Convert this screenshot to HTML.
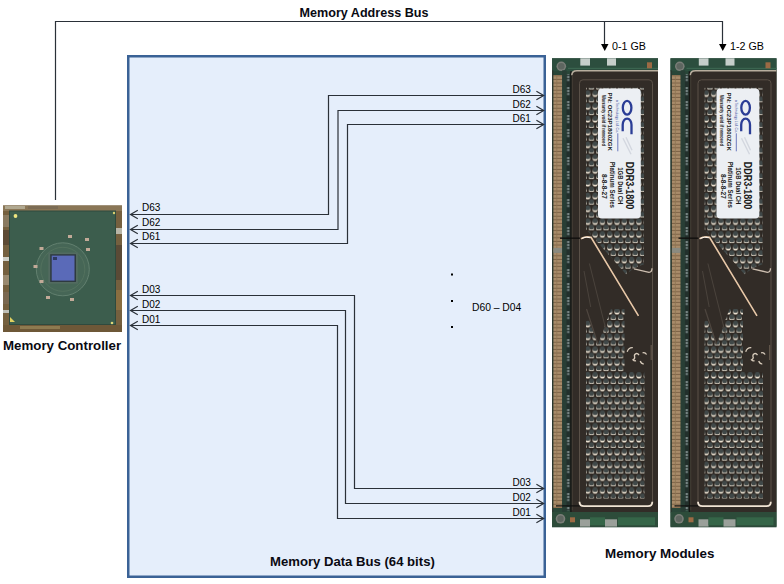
<!DOCTYPE html>
<html><head><meta charset="utf-8">
<style>
html,body{margin:0;padding:0;background:#fff;width:784px;height:584px;overflow:hidden;position:relative;font-family:"Liberation Sans",sans-serif;}
.abs{position:absolute;}
.t{position:absolute;white-space:nowrap;color:#000;line-height:1;}
.b{font-weight:bold;font-size:12.6px;color:#0a0a12;transform-origin:0 0;}
.s{font-size:10px;transform-origin:0 0;}
</style></head>
<body>
<svg class="abs" style="left:0;top:0" width="784" height="584" viewBox="0 0 784 584">
  <defs>
    <pattern id="pf" x="2.95" y="5.6" width="7.3" height="12.8" patternUnits="userSpaceOnUse">
      <rect width="7.3" height="12.8" fill="#2e2823"/>
      <circle cx="3.65" cy="4.8" r="2.5" fill="#e8dece"/><circle cx="3.65" cy="3.2" r="2.5" fill="#404848"/>
      <circle cx="0" cy="11.2" r="2.5" fill="#e8dece"/><circle cx="0" cy="9.6" r="2.5" fill="#404848"/>
      <circle cx="7.3" cy="11.2" r="2.5" fill="#e8dece"/><circle cx="7.3" cy="9.6" r="2.5" fill="#404848"/>
    </pattern>
    <pattern id="gd" x="1.4" y="0" width="8.8" height="3.6" patternUnits="userSpaceOnUse">
      <rect width="8.8" height="3.6" fill="#a98c6a"/>
      <rect y="2.6" width="8.8" height="1" fill="#7c6246"/>
      <rect x="3" width="0.8" height="3.6" fill="#8c7452"/>
    </pattern>
    <pattern id="ch" x="14.4" y="0" width="3.8" height="14" patternUnits="userSpaceOnUse">
      <rect width="3.8" height="14" fill="#22302c"/>
      <rect x="0.7" y="1" width="2.4" height="1.6" fill="#98a6a6"/>
      <rect x="0.7" y="4" width="2.4" height="1.6" fill="#98a6a6"/>
      <rect x="0.7" y="7" width="2.4" height="1.6" fill="#7f8e8e"/>
    </pattern>
    <g id="mod">
      <rect x="0" y="0" width="106" height="469" fill="#294638"/>
      <!-- top pcb -->
      <rect x="0" y="0" width="106" height="13" fill="#2c4e3e"/>
      <rect x="16" y="9.5" width="90" height="1.2" fill="#3b6550"/>
      <circle cx="9.3" cy="8" r="4.8" fill="#7a7e78"/>
      <circle cx="9.3" cy="8" r="3.3" fill="#5e6660"/>
      <rect x="28.3" y="0" width="9.7" height="7.3" fill="#c6ceca"/>
      <rect x="55" y="0" width="9" height="7.3" fill="#c6ceca"/>
      <rect x="95" y="4" width="5" height="6" fill="#9c6a44"/>
      <!-- left strips -->
      <rect x="0" y="12" width="1.4" height="442" fill="#2a362e"/>
      <rect x="1.4" y="16.7" width="8.8" height="433" fill="url(#gd)"/>
      <rect x="1.4" y="189.6" width="8.8" height="5" fill="#8a8a80"/>
      <rect x="10.2" y="12" width="4.4" height="442" fill="#283e35"/>
      <rect x="14.4" y="16" width="3.8" height="436" fill="url(#ch)"/>
      <rect x="18.2" y="13" width="1.6" height="441" fill="#171513"/>
      <!-- heat spreader -->
      <path d="M19.8 17 Q19.8 11.8 25 11.8 L106 11.8 L106 453.7 L19.8 453.7 Z" fill="#322c27"/>
      <path d="M19.8 17 Q19.8 12.4 25 12.4 L106 12.4" fill="none" stroke="#b8ae9e" stroke-width="1.5"/>
      <path d="M27.5 446 L27.5 25 Q27.5 21.5 31 21.5 L97 21.5 Q100.5 21.5 100.5 25 L100.5 446" fill="none" stroke="#5a5148" stroke-width="1"/><line x1="20.3" y1="17" x2="20.3" y2="452" stroke="#4a423a" stroke-width="0.8"/>
      <!-- upper perforated panel -->
      <polygon points="34,29.5 92,29.5 92,206 82,210 74,216 34,171" fill="url(#pf)"/>
      <!-- lower perforated panel -->
      <polygon points="34,262 37,262 46,285.7 59,250.7 72.5,250.7 72.5,313.7 92.5,313.7 92.5,440.2 34,440.2" fill="url(#pf)"/>
      <path d="M34.5 250.7 L46 286" fill="none" stroke="#4e463f" stroke-width="1.2"/>
      <path d="M75.2 293.5 Q76.5 289 80.8 289.3 M87 296.8 Q85.8 294.8 84 295.3 Q81.8 296.2 82.6 298.6 Q83.2 300.4 81 301.6 Q82.2 303 84 302.4 M90.6 294.5 Q93 293.6 94.6 296.2 M88.2 302.8 Q89.5 306 91.8 305.6" fill="none" stroke="#d8ccbc" stroke-width="1.3"/>
      <line x1="99.2" y1="286.7" x2="99.2" y2="301.7" stroke="#6a5e52" stroke-width="1"/>
      <!-- swoosh -->
      <path d="M37.4 205.2 L56.6 282.2 M32 212.7 L38.7 248.7" fill="none" stroke="#4a433c" stroke-width="1"/>
      <path d="M29 180.5 Q34 177.5 39 179 L86.5 257.5" fill="none" stroke="#e8c8a8" stroke-width="1.6"/><path d="M30 180 Q34 178 38.5 179.5" fill="none" stroke="#fff8f0" stroke-width="1"/>
      <path d="M82 210.5 L97 214 Q100 214 100 210" fill="none" stroke="#cdbfb0" stroke-width="1.3"/>
      <rect x="8" y="179.2" width="20" height="1.3" fill="#0e0d0c"/>
      <!-- bottom highlight -->
      <rect x="4" y="447" width="24" height="1.2" fill="#101010"/>
      <path d="M27.5 443.5 Q27.5 447.9 32 447.9 L96 447.9 Q100.3 447.9 100.3 443.5" fill="none" stroke="#f0e4d4" stroke-width="1.8"/>
      <!-- bottom pcb -->
      <rect x="0" y="453.7" width="106" height="14.6" fill="#2d4c3a"/>
      <circle cx="8.5" cy="460.5" r="4.8" fill="#7a7e78"/>
      <circle cx="8.5" cy="460.5" r="3.2" fill="#5e6660"/>
      <rect x="18" y="459" width="5" height="5" fill="#9c6a44"/>
      <rect x="28" y="461" width="10" height="7.3" fill="#9aa09a"/>
      <rect x="38" y="459" width="15" height="8" fill="#356548"/>
      <rect x="53" y="461" width="12" height="7.3" fill="#9aa09a"/>
      <rect x="66" y="459" width="37" height="8" fill="#356548"/>
      <!-- label -->
      <rect x="46" y="30.3" width="42.8" height="130" rx="4" fill="#eceff3"/>
      <g font-family="Liberation Sans, sans-serif" fill="#1a1a1a">
        <text transform="translate(73.6,103.4) rotate(90)" font-size="10.2" font-weight="bold" textLength="47.6" lengthAdjust="spacingAndGlyphs">DDR3-1800</text>
        <text transform="translate(65.8,109) rotate(90)" font-size="7.4" font-weight="bold" textLength="37" lengthAdjust="spacingAndGlyphs">1GB Dual CH</text>
        <text transform="translate(57.8,103.4) rotate(90)" font-size="7.3" font-weight="bold" textLength="46.3" lengthAdjust="spacingAndGlyphs">Platinum Series</text>
        <text transform="translate(50.4,115.7) rotate(90)" font-size="6.6" font-weight="bold" textLength="24.8" lengthAdjust="spacingAndGlyphs">8-8-8-27</text>
        <text transform="translate(56.2,34.3) rotate(90)" font-size="6.2" font-weight="bold" textLength="58.2" lengthAdjust="spacingAndGlyphs">PN: OC23P1800ZGK</text>
        <text transform="translate(49.9,36.7) rotate(90)" font-size="5.6" font-weight="bold" textLength="51" lengthAdjust="spacingAndGlyphs">Warranty void if removed</text>
        <text transform="translate(64.4,41.5) rotate(90)" font-size="3.6" fill="#3a4ca0" textLength="33" lengthAdjust="spacingAndGlyphs">a Technology Ltd. Co.</text>
      </g>
      <line x1="65.8" y1="75" x2="65.8" y2="93" stroke="#4a5cb0" stroke-width="0.8"/>
      <ellipse cx="75.1" cy="49.5" rx="4.3" ry="6.9" fill="none" stroke="#2b3d96" stroke-width="2.3"/>
      <path d="M70.7 73 L70.7 66.5 A4.4 6.2 0 0 1 79.5 66.5 L79.5 76" fill="none" stroke="#2b3d96" stroke-width="2.3"/>
      <path d="M71 80 L79 96 M74 79 L80 92" fill="none" stroke="#d3d7df" stroke-width="1.4"/>
    </g>
  </defs>

  <rect x="128.25" y="56.25" width="416.5" height="520.5" fill="#e5eefb" stroke="#3a6296" stroke-width="2.5"/>
  <g fill="none" stroke="#2a3038" stroke-width="1.2">
    <polyline points="55.5,200 55.5,21.5 722.5,21.5 722.5,45"/>
    <line x1="604.5" y1="21.5" x2="604.5" y2="45"/>
  </g>
  <g fill="#000">
    <polygon points="601,44 608.5,44 604.75,51"/>
    <polygon points="719,44 726.5,44 722.75,51"/>
  </g>
  <g fill="none" stroke="#2a3038" stroke-width="1.2">
    <polyline points="544,95.5 328.5,95.5 328.5,214.5 131,214.5"/>
    <polyline points="544,110.5 338,110.5 338,229.5 131,229.5"/>
    <polyline points="544,124.5 347.5,124.5 347.5,243.5 131,243.5"/>
    <polyline points="131,295.5 354.5,295.5 354.5,488.5 544,488.5"/>
    <polyline points="131,310.5 345.5,310.5 345.5,503.5 544,503.5"/>
    <polyline points="131,325.5 337.5,325.5 337.5,518.5 544,518.5"/>
    <polyline points="137.8,210.3 130.5,214.5 137.8,218.7"/>
    <polyline points="137.8,225.3 130.5,229.5 137.8,233.7"/>
    <polyline points="137.8,239.3 130.5,243.5 137.8,247.7"/>
    <polyline points="137.8,291.3 130.5,295.5 137.8,299.7"/>
    <polyline points="137.8,306.3 130.5,310.5 137.8,314.7"/>
    <polyline points="137.8,321.3 130.5,325.5 137.8,329.7"/>
    <polyline points="536.4,91.3 543.7,95.5 536.4,99.7"/>
    <polyline points="536.4,106.3 543.7,110.5 536.4,114.7"/>
    <polyline points="536.4,120.3 543.7,124.5 536.4,128.7"/>
    <polyline points="536.4,484.3 543.7,488.5 536.4,492.7"/>
    <polyline points="536.4,499.3 543.7,503.5 536.4,507.7"/>
    <polyline points="536.4,514.3 543.7,518.5 536.4,522.7"/>
  </g>
  <g fill="#000">
    <rect x="451" y="273.5" width="2" height="2"/>
    <rect x="451" y="300" width="2" height="2"/>
    <rect x="451" y="326" width="2" height="2"/>
  </g>

  <!-- chip -->
  <g>
    <rect x="3" y="205.5" width="119" height="126.5" fill="#75603f"/>
    <rect x="3" y="205.5" width="119" height="5.5" fill="#8a7656"/>
    <rect x="5" y="206" width="20" height="3" fill="#b0a890"/>
    <rect x="28" y="206" width="30" height="3" fill="#7c6c54"/>
    <rect x="3" y="215" width="6" height="12" fill="#8a7a60"/>
    <rect x="3" y="230" width="6" height="15" fill="#5d4a34"/>
    <rect x="3" y="257" width="6" height="4" fill="#d0d0c8"/>
    <rect x="3" y="275" width="6" height="10" fill="#9a8a70"/>
    <rect x="3" y="292" width="6" height="12" fill="#7a6850"/>
    <rect x="3" y="310" width="6" height="3" fill="#c0c0b8"/>
    <rect x="115.5" y="228" width="6.5" height="6" fill="#b8b6a8"/>
    <rect x="115.5" y="245" width="6.5" height="35" fill="#5a4a36"/>
    <rect x="115.5" y="290" width="6.5" height="20" fill="#8a6e40"/>
    <rect x="3" y="325" width="119" height="7" fill="#6e5838"/>
    <rect x="20" y="326" width="40" height="3" fill="#8e7a50"/>
    <rect x="9.5" y="211" width="106" height="113.5" fill="#3c5d4d"/>
    <rect x="9.5" y="211" width="106" height="113.5" fill="none" stroke="#2f4a3e" stroke-width="1"/>
    <circle cx="62.8" cy="269.3" r="26.5" fill="#466656" stroke="#62806f" stroke-width="1"/>
    <circle cx="62.8" cy="269.3" r="22" fill="none" stroke="#55735f" stroke-width="0.8"/>
    <rect x="48.3" y="252.5" width="29.6" height="31.2" fill="#526b60"/>
    <rect x="50.2" y="254.2" width="25.8" height="27.8" fill="#2e3a40"/>
    <rect x="51.7" y="255.6" width="22.8" height="25" fill="#5a6ab8"/>
    <rect x="53" y="257" width="4" height="3" fill="#2e3a60"/>
    <g fill="#c2aa98">
      <rect x="68" y="235" width="4" height="3"/><rect x="85" y="238" width="4" height="3"/>
      <rect x="39.5" y="247" width="4" height="3"/><rect x="86" y="248" width="4" height="3"/>
      <rect x="33.5" y="265" width="4" height="3"/><rect x="39.5" y="280" width="4" height="3"/>
      <rect x="46" y="296" width="4" height="3"/><rect x="70" y="298" width="4" height="3"/>
    </g>
    <circle cx="15.5" cy="216" r="1.9" fill="#eee680"/>
    <circle cx="114" cy="213" r="1.2" fill="#d8d070"/>
    <circle cx="112" cy="323" r="1.3" fill="#e0d878"/>
    <polygon points="10,317 15,322 10,322" fill="#e0d060"/>
  </g>

  <!-- modules -->
  <use href="#mod" x="552" y="58.3"/>
  <use href="#mod" x="670.5" y="58.3"/>
</svg>

<!-- text labels -->
<div class="t b" style="left:299.5px;top:6.5px;">Memory Address Bus</div>
<div class="t b" style="left:3px;top:340px;transform:scaleX(1.055)">Memory Controller</div>
<div class="t b" style="left:270.3px;top:556px;transform:scaleX(1.042)">Memory Data Bus (64 bits)</div>
<div class="t b" style="left:605.4px;top:548.1px;transform:scaleX(1.063)">Memory Modules</div>

<div class="t s" style="left:612px;top:42px;transform:scaleX(1.07)">0-1 GB</div>
<div class="t s" style="left:730px;top:42px;transform:scaleX(1.07)">1-2 GB</div>

<div class="t s" style="left:142px;top:202.8px;">D63</div>
<div class="t s" style="left:142px;top:217.8px;">D62</div>
<div class="t s" style="left:142px;top:231.8px;">D61</div>
<div class="t s" style="left:142px;top:285.0px;">D03</div>
<div class="t s" style="left:142px;top:300.0px;">D02</div>
<div class="t s" style="left:142px;top:315.0px;">D01</div>

<div class="t s" style="left:512.5px;top:84.5px;">D63</div>
<div class="t s" style="left:512.5px;top:99.5px;">D62</div>
<div class="t s" style="left:512.5px;top:113.5px;">D61</div>
<div class="t s" style="left:512.5px;top:477.5px;">D03</div>
<div class="t s" style="left:512.5px;top:492.5px;">D02</div>
<div class="t s" style="left:512.5px;top:507.5px;">D01</div>

<div class="t s" style="left:472px;top:302.5px;transform:scaleX(1.03)">D60 – D04</div>
</body></html>
